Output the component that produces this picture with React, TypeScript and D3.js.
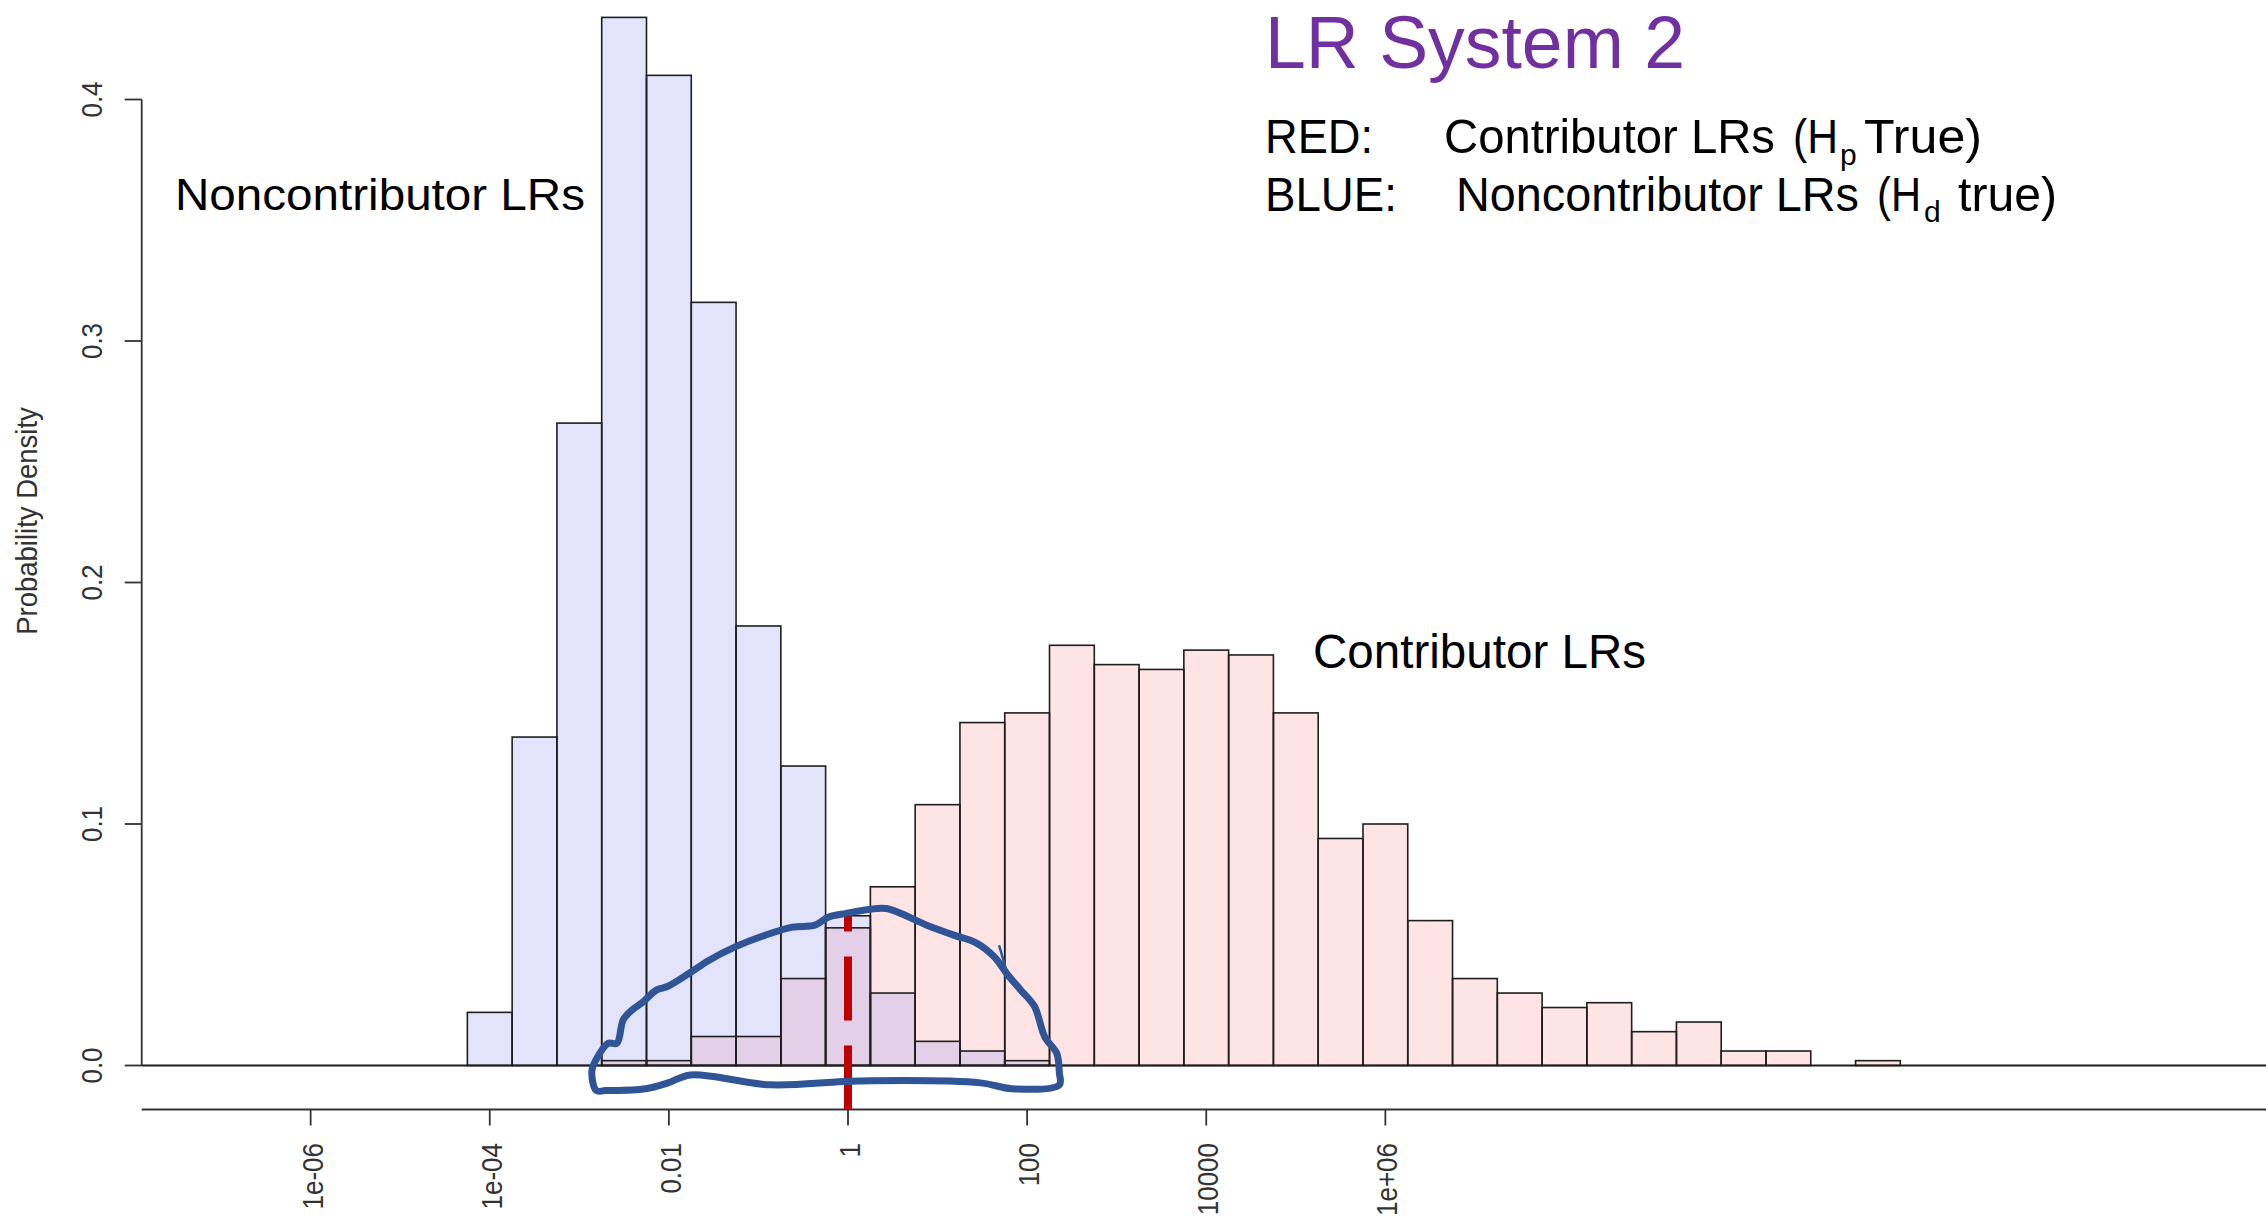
import React from "react";
import * as d3 from "d3";

const W = 2266;
const H = 1218;

// Histogram bins: centre of each bin in log10(LR), bin width 0.5 decade
const noncontribCenters = [-4, -3.5, -3, -2.5, -2, -1.5, -1, -0.5, 0, 0.5, 1, 1.5, 2];
const noncontribDensity = [0.022, 0.136, 0.266, 0.434, 0.41, 0.316, 0.182, 0.124, 0.062, 0.03, 0.01, 0.006, 0.002];

const contribCenters = [
  -2.5, -2, -1.5, -1, -0.5, 0, 0.5, 1, 1.5, 2, 2.5, 3, 3.5, 4, 4.5, 5, 5.5, 6, 6.5, 7, 7.5, 8, 8.5, 9, 9.5, 10,
  10.5, 11, 11.5,
];
const contribDensity = [
  0.002, 0.002, 0.012, 0.012, 0.036, 0.057, 0.074, 0.108, 0.142, 0.146, 0.174, 0.166, 0.164, 0.172, 0.17, 0.146,
  0.094, 0.1, 0.06, 0.036, 0.03, 0.024, 0.026, 0.014, 0.018, 0.006, 0.006, 0, 0.002,
];
const binWidth = 0.5;

const xTickValues = [-6, -4, -2, 0, 2, 4, 6];
const xTickLabels = ["1e-06", "1e-04", "0.01", "1", "100", "10000", "1e+06"];
const yTickValues = [0, 0.1, 0.2, 0.3, 0.4];
const yTickLabels = ["0.0", "0.1", "0.2", "0.3", "0.4"];

// Hand-drawn annotation loop around the overlap region, [log10 LR, density]
const loopPoints: [number, number][] = [
  [-2.81, -0.0104], [-2.86, -0.0023], [-2.81, 0.0026], [-2.68, 0.0092], [-2.58, 0.0092], [-2.51, 0.0189],
  [-2.41, 0.023], [-2.29, 0.0263], [-2.14, 0.0312], [-2.01, 0.0328], [-1.76, 0.0385], [-1.56, 0.0434],
  [-1.26, 0.0491], [-0.92, 0.054], [-0.62, 0.0573], [-0.37, 0.0581], [-0.22, 0.0614], [-0.02, 0.063],
  [0.23, 0.0646], [0.43, 0.065], [0.88, 0.0581], [1.18, 0.054], [1.43, 0.0508], [1.63, 0.0451],
  [1.78, 0.0377], [1.93, 0.0312], [2.08, 0.0246], [2.2, 0.0116], [2.33, 0.0051], [2.36, -0.0031],
  [2.36, -0.008], [1.83, -0.0096], [1.48, -0.0072], [0.13, -0.0064], [-0.87, -0.008], [-1.76, -0.0039],
  [-2.01, -0.0072], [-2.26, -0.0096], [-2.71, -0.0104],
];
const loopHook: [number, number][] = [[1.69, 0.0494], [1.78, 0.0377]];
const thresholdLog = 0; // LR = 1
const thresholdTop = 0.0623;

const FONT = "'Liberation Sans', Arial, Helvetica, sans-serif";
const BLUE_FILL = "#E3E3FC";
const RED_FILL = "#FFE4E6";
const OVERLAP_FILL = "#E4CFE8";
const OUTLINE = "#1e1e1e";

export default function App() {
  const x = d3.scaleLinear().domain([-8, 16]).range([848 - 8 * 89.56, 848 + 16 * 89.56]);
  const y = d3.scaleLinear().domain([0, 0.4]).range([1065.5, 99.5]);

  const plotLeft = 141.7;
  const plotRight = W;
  const axisY = 1109.5;

  const blue = noncontribCenters.map((c, i) => ({ c, d: noncontribDensity[i] }));
  const red = contribCenters.map((c, i) => ({ c, d: contribDensity[i] }));
  const overlap = blue
    .map((b) => {
      const r = red.find((rr) => rr.c === b.c);
      return r ? { c: b.c, d: Math.min(b.d, r.d) } : null;
    })
    .filter((v) => v && v.d > 0) as { c: number; d: number }[];

  const rectOf = (c: number, d: number) => ({
    x: x(c - binWidth / 2),
    y: y(d),
    w: x(c + binWidth / 2) - x(c - binWidth / 2),
    h: y(0) - y(d),
  });

  const loopPath = d3
    .line<[number, number]>()
    .x((p) => x(p[0]))
    .y((p) => y(p[1]))
    .curve(d3.curveCatmullRomClosed.alpha(0.5))(loopPoints) as string;
  const hookPath = d3
    .line<[number, number]>()
    .x((p) => x(p[0]))
    .y((p) => y(p[1]))(loopHook) as string;

  return (
    <svg
      width={W}
      height={H}
      viewBox={`0 0 ${W} ${H}`}
      style={{ position: "absolute", left: 0, top: 0, display: "block", background: "#fff" }}
      fontFamily={FONT}
    >
      <rect x={0} y={0} width={W} height={H} fill="#fff" />

      {/* fills */}
      {blue.map((b, i) => {
        const r = rectOf(b.c, b.d);
        return <rect key={`bf${i}`} x={r.x} y={r.y} width={r.w} height={r.h} fill={BLUE_FILL} />;
      })}
      {red.map((b, i) => {
        const r = rectOf(b.c, b.d);
        return <rect key={`rf${i}`} x={r.x} y={r.y} width={r.w} height={r.h} fill={RED_FILL} />;
      })}
      {overlap.map((b, i) => {
        const r = rectOf(b.c, b.d);
        return <rect key={`of${i}`} x={r.x} y={r.y} width={r.w} height={r.h} fill={OVERLAP_FILL} />;
      })}
      {/* outlines */}
      {blue.map((b, i) => {
        const r = rectOf(b.c, b.d);
        return (
          <rect key={`bo${i}`} x={r.x} y={r.y} width={r.w} height={r.h} fill="none" stroke={OUTLINE} strokeWidth={1.6} />
        );
      })}
      {red.map((b, i) => {
        const r = rectOf(b.c, b.d);
        return (
          <rect key={`ro${i}`} x={r.x} y={r.y} width={r.w} height={r.h} fill="none" stroke={OUTLINE} strokeWidth={1.6} />
        );
      })}

      {/* zero line */}
      <line x1={plotLeft} x2={plotRight} y1={y(0)} y2={y(0)} stroke={OUTLINE} strokeWidth={2} />

      {/* y axis */}
      <line x1={plotLeft} x2={plotLeft} y1={y(0.4)} y2={y(0)} stroke="#333" strokeWidth={1.8} />
      {yTickValues.map((v, i) => (
        <g key={`yt${i}`}>
          <line x1={plotLeft - 17} x2={plotLeft} y1={y(v)} y2={y(v)} stroke="#333" strokeWidth={1.8} />
          <text
            transform={`translate(101.7,${y(v)}) rotate(-90) scale(1,1.1)`}
            textAnchor="middle"
            fontSize={26}
            fill="#333"
          >
            {yTickLabels[i]}
          </text>
        </g>
      ))}
      <text
        transform={`translate(36.7,521) rotate(-90) scale(1,1.06)`}
        textAnchor="middle"
        fontSize={27.5}
        fill="#333"
      >
        Probability Density
      </text>

      {/* x axis */}
      <line x1={plotLeft} x2={plotRight} y1={axisY} y2={axisY} stroke="#333" strokeWidth={1.8} />
      {xTickValues.map((v, i) => (
        <g key={`xt${i}`}>
          <line x1={x(v)} x2={x(v)} y1={axisY} y2={axisY + 16} stroke="#333" strokeWidth={1.8} />
          <text
            transform={`translate(${x(v) + 12},${1143}) rotate(-90) scale(1,1.12)`}
            textAnchor="end"
            fontSize={26}
            fill="#333"
          >
            {xTickLabels[i]}
          </text>
        </g>
      ))}

      {/* LR = 1 threshold */}
      <line
        x1={x(thresholdLog)}
        x2={x(thresholdLog)}
        y1={axisY}
        y2={y(thresholdTop)}
        stroke="#C00000"
        strokeWidth={8}
        strokeDasharray="64 25"
      />

      {/* hand-drawn loop */}
      <path d={loopPath} fill="none" stroke="#2F5597" strokeWidth={7} strokeLinejoin="round" strokeLinecap="round" />
      <path d={hookPath} fill="none" stroke="#2F5597" strokeWidth={2.5} strokeLinecap="round" />

      {/* labels */}
      <text x={175} y={210} fontSize={44} textLength={410} lengthAdjust="spacingAndGlyphs" fill="#000">
        Noncontributor LRs
      </text>
      <text x={1313} y={668} fontSize={48} textLength={333} lengthAdjust="spacingAndGlyphs" fill="#000">
        Contributor LRs
      </text>

      {/* title & legend */}
      <text x={1265} y={68} fontSize={74} fill="#7030A0" textLength={420} lengthAdjust="spacingAndGlyphs">
        LR System 2
      </text>

      <g fontSize={49} fill="#000">
        <text x={1265} y={152.7} textLength={108} lengthAdjust="spacingAndGlyphs">RED:</text>
        <text x={1444} y={152.7} textLength={331} lengthAdjust="spacingAndGlyphs">Contributor LRs</text>
        <text x={1793} y={152.7} textLength={45} lengthAdjust="spacingAndGlyphs">(H</text>
        <text x={1840} y={164.5} fontSize={30}>p</text>
        <text x={1864} y={152.7} textLength={118} lengthAdjust="spacingAndGlyphs">True)</text>

        <text x={1265} y={210.5} textLength={132} lengthAdjust="spacingAndGlyphs">BLUE:</text>
        <text x={1456} y={210.5} textLength={403} lengthAdjust="spacingAndGlyphs">Noncontributor LRs</text>
        <text x={1877} y={210.5} textLength={44} lengthAdjust="spacingAndGlyphs">(H</text>
        <text x={1924} y={221.5} fontSize={30}>d</text>
        <text x={1958} y={210.5} textLength={99} lengthAdjust="spacingAndGlyphs">true)</text>
      </g>
    </svg>
  );
}
